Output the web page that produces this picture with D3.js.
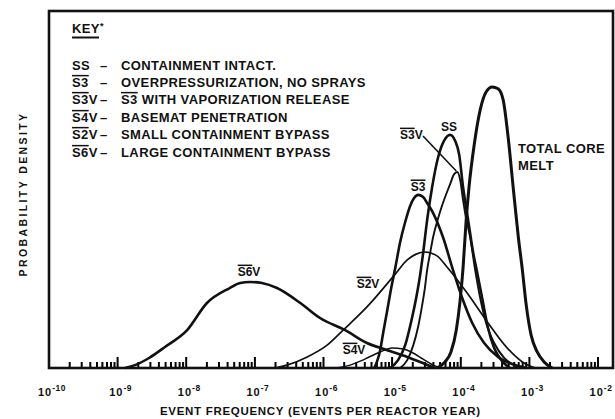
<!DOCTYPE html>
<html>
<head>
<meta charset="utf-8">
<script src="https://cdn.jsdelivr.net/npm/d3@7/dist/d3.min.js"></script>
<style>
  html, body { margin: 0; padding: 0; background: #fff; }
  svg { display: block; }
  text { font-family: "Liberation Sans", Arial, sans-serif; font-weight: 700; fill: #111; }
</style>
</head>
<body>
<svg id="chart" width="615" height="419"></svg>
<script>
// Release categories: event frequency (events per reactor year) against
// relative probability density (fraction of the plot height).

const decadeTicks = [1e-10, 1e-9, 1e-8, 1e-7, 1e-6, 1e-5, 1e-4, 1e-3, 1e-2];
const decadeExponents = ["-10", "-9", "-8", "-7", "-6", "-5", "-4", "-3", "-2"];
const minorMultiples = [2, 3, 4, 5, 6, 7, 8, 9];

const categoryCodes = ["SS", "S3", "S3V", "S4V", "S2V", "S6V"];
const categoryNames = [
  "CONTAINMENT INTACT.",
  "OVERPRESSURIZATION, NO SPRAYS",
  "S3 WITH VAPORIZATION RELEASE",
  "BASEMAT PENETRATION",
  "SMALL CONTAINMENT BYPASS",
  "LARGE CONTAINMENT BYPASS"
];

// Total core melt
const tcmFreq = [4.5e-5, 5.9e-5, 7.2e-5, 8.6e-5, 9.8e-5, 1.08e-4, 1.2e-4, 1.32e-4, 1.57e-4, 1.92e-4, 2.34e-4, 2.87e-4,
  3.5e-4, 4.15e-4, 4.9e-4, 5.8e-4, 6.9e-4, 7.9e-4, 9.0e-4, 1.06e-3, 1.3e-3, 1.64e-3, 2.15e-3];
const tcmDensity = [0, 0.017, 0.045, 0.106, 0.19, 0.28, 0.415, 0.507, 0.625, 0.723, 0.773, 0.787,
  0.782, 0.751, 0.647, 0.507, 0.367, 0.275, 0.176, 0.092, 0.045, 0.017, 0];

// SS – containment intact
const ssFreq = [9.4e-6, 1.22e-5, 1.55e-5, 1.89e-5, 2.24e-5, 2.56e-5, 2.83e-5, 3.24e-5, 3.83e-5, 4.69e-5, 5.7e-5, 7.0e-5,
  8.3e-5, 9.5e-5, 1.08e-4, 1.28e-4, 1.52e-4, 1.73e-4, 2.05e-4, 2.5e-4, 3.07e-4, 3.9e-4, 5.2e-4];
const ssDensity = [0, 0.022, 0.064, 0.129, 0.196, 0.261, 0.322, 0.415, 0.507, 0.591, 0.636, 0.653,
  0.636, 0.597, 0.507, 0.415, 0.322, 0.269, 0.196, 0.112, 0.056, 0.022, 0];

// S3 – overpressurization, no sprays
const s3Freq = [5.5e-6, 6.0e-6, 6.7e-6, 7.4e-6, 8.5e-6, 9.7e-6, 1.11e-5, 1.31e-5, 1.55e-5, 1.83e-5, 2.09e-5, 2.39e-5,
  2.83e-5, 3.24e-5, 3.96e-5, 5.5e-5, 7.7e-5, 1.05e-4, 1.47e-4, 2.19e-4, 3.5e-4, 5.6e-4, 9.0e-4];
const s3Density = [0, 0.017, 0.05, 0.098, 0.162, 0.224, 0.28, 0.353, 0.409, 0.454, 0.476, 0.485,
  0.479, 0.462, 0.434, 0.367, 0.275, 0.196, 0.126, 0.07, 0.031, 0.011, 0];

// S3V – S3 with vaporization release
const s3vFreq = [1.31e-5, 1.66e-5, 2.02e-5, 2.39e-5, 2.74e-5, 3.0e-5, 3.24e-5, 3.58e-5, 3.96e-5, 4.69e-5, 5.5e-5, 7.0e-5,
  8.0e-5, 8.9e-5, 9.8e-5, 1.08e-4, 1.2e-4, 1.37e-4, 1.62e-4, 1.92e-4, 2.34e-4, 3.07e-4, 4.3e-4, 6.4e-4, 9.0e-4];
const s3vDensity = [0, 0.022, 0.062, 0.115, 0.176, 0.224, 0.275, 0.322, 0.367, 0.42, 0.462, 0.515,
  0.543, 0.549, 0.527, 0.471, 0.417, 0.367, 0.275, 0.196, 0.126, 0.07, 0.028, 0.006, 0];

// S4V – basemat penetration
const s4vFreq = [1.48e-6, 2.44e-6, 4.0e-6, 6.7e-6, 1.0e-5, 1.45e-5, 2.02e-5, 2.83e-5, 4.2e-5, 5.9e-5];
const s4vDensity = [0, 0.008, 0.025, 0.045, 0.056, 0.053, 0.042, 0.025, 0.006, 0];

// S2V – small containment bypass
const s2vFreq = [1.97e-7, 2.94e-7, 5.8e-7, 1.13e-6, 1.93e-6, 4.3e-6, 1.11e-5, 1.66e-5, 2.24e-5, 3.0e-5, 4.5e-5, 6.3e-5,
  1.24e-4, 2.34e-4, 4.6e-4, 7.9e-4, 1.22e-3];
const s2vDensity = [0, 0.008, 0.031, 0.064, 0.106, 0.171, 0.263, 0.303, 0.319, 0.325, 0.314, 0.283,
  0.21, 0.134, 0.059, 0.017, 0];

// S6V – large containment bypass
const s6vFreq = [1.28e-9, 1.79e-9, 2.87e-9, 4.9e-9, 1.03e-8, 2.0e-8, 4.3e-8, 6.1e-8, 8.5e-8, 1.27e-7, 2.1e-7, 4.6e-7,
  8.9e-7, 2.07e-6, 4.3e-6, 8.5e-6, 1.66e-5, 2.56e-5, 4.2e-5];
const s6vDensity = [0, 0.008, 0.028, 0.059, 0.106, 0.182, 0.224, 0.238, 0.241, 0.238, 0.224, 0.182,
  0.14, 0.106, 0.07, 0.05, 0.031, 0.017, 0];

// ---------------------------------------------------------------------------

const ink = "#111";
const svg = d3.select("#chart");

const plot = { left: 49, right: 613, top: 11, bottom: 368 };
const x = d3.scaleLog().domain([1e-10, 1e-2]).range([49, 598]);
const y = d3.scaleLinear().domain([0, 1]).range([plot.bottom, plot.top]);

const zip = (fs, ds) => fs.map((f, i) => [f, ds[i]]);
const curves = [
  { id: "s6v", pts: zip(s6vFreq, s6vDensity) },
  { id: "s2v", pts: zip(s2vFreq, s2vDensity) },
  { id: "s4v", pts: zip(s4vFreq, s4vDensity) },
  { id: "s3", pts: zip(s3Freq, s3Density) },
  { id: "s3v", pts: zip(s3vFreq, s3vDensity) },
  { id: "ss", pts: zip(ssFreq, ssDensity) },
  { id: "tcm", pts: zip(tcmFreq, tcmDensity) }
];
const strokeWidth = { s6v: 2.6, s2v: 1.7, s4v: 1.5, s3: 2.6, s3v: 1.9, ss: 2.6, tcm: 3 };

// Text with an overbar above selected pieces (e.g. S̄3V)
function barredText(parent, x0, y0, pieces, size, opts = {}) {
  const t = parent.append("text")
    .attr("x", x0).attr("y", y0)
    .attr("font-size", size)
    .attr("text-anchor", opts.anchor || "start")
    .attr("letter-spacing", opts.spacing || 0);
  pieces.forEach(p => t.append("tspan").text(p.t));
  const node = t.node();
  let idx = 0;
  pieces.forEach(p => {
    if (p.bar) {
      const s = node.getStartPositionOfChar(idx).x;
      const e = node.getEndPositionOfChar(idx + p.t.length - 1).x;
      const by = y0 - size * 0.72 - 2;
      parent.append("line")
        .attr("x1", s).attr("x2", e).attr("y1", by).attr("y2", by)
        .attr("stroke", ink).attr("stroke-width", 1.5);
    }
    idx += p.t.length;
  });
  return t;
}
const codePieces = code => code === "SS" ? [{ t: code }] : [{ t: code.slice(0, 2), bar: true }, { t: code.slice(2) }];

// Log ticks standing up from the bottom edge
const tickMarks = [];
decadeTicks.forEach((d, i) => {
  tickMarks.push({ v: d, major: true });
  if (i < decadeTicks.length - 1) minorMultiples.forEach(m => tickMarks.push({ v: d * m, major: false }));
});
const tickPath = tickMarks
  .map(t => `M${x(t.v).toFixed(1)},${plot.bottom}V${plot.bottom - (t.major ? 11 : 6)}`)
  .join("");
svg.append("path")
  .attr("class", "ticks")
  .attr("d", tickPath)
  .attr("fill", "none")
  .attr("stroke", "#000")
  .attr("stroke-width", 2);

// Frame
svg.append("rect")
  .attr("x", plot.left).attr("y", plot.top)
  .attr("width", plot.right - plot.left).attr("height", plot.bottom - plot.top)
  .attr("fill", "none").attr("stroke", ink).attr("stroke-width", 2.6);

// Decade labels 10^n
const tickLabels = svg.append("g");
decadeTicks.forEach((v, i) => {
  const t = tickLabels.append("text")
    .attr("x", x(v) + 3).attr("y", 396)
    .attr("text-anchor", "middle");
  t.append("tspan").attr("font-size", 11).attr("letter-spacing", 1).text("10");
  t.append("tspan").attr("font-size", 8.5).attr("dy", -5).attr("letter-spacing", 0.5).text(decadeExponents[i]);
});

// Axis titles
svg.append("text")
  .attr("x", 160).attr("y", 415)
  .attr("font-size", 11.5)
  .attr("textLength", 320).attr("lengthAdjust", "spacing")
  .text("EVENT FREQUENCY (EVENTS PER REACTOR YEAR)");

svg.append("text")
  .attr("transform", "translate(27,194) rotate(-90)")
  .attr("text-anchor", "middle")
  .attr("font-size", 10.5)
  .attr("letter-spacing", 2.4)
  .text("PROBABILITY DENSITY");

// Density curves
const line = d3.line()
  .x(d => x(d[0]))
  .y(d => y(d[1]))
  .curve(d3.curveMonotoneX);

svg.append("g").selectAll("path")
  .data(curves)
  .join("path")
  .attr("d", d => line(d.pts))
  .attr("fill", "none")
  .attr("stroke", ink)
  .attr("stroke-width", d => strokeWidth[d.id])
  .attr("stroke-linejoin", "round");

// Curve labels
const peak = pts => pts.reduce((a, b) => (b[1] > a[1] ? b : a));
const lab = svg.append("g");
{
  const p6 = peak(zip(s6vFreq, s6vDensity));
  barredText(lab, x(p6[0]) - 1, y(p6[1]) - 6, codePieces("S6V"), 12, { anchor: "middle" });

  const p3 = peak(zip(s3Freq, s3Density));
  barredText(lab, x(p3[0]), y(p3[1]) - 4, codePieces("S3"), 12, { anchor: "middle" });

  const pss = peak(zip(ssFreq, ssDensity));
  barredText(lab, x(pss[0]) - 1, y(pss[1]) - 4, codePieces("SS"), 12, { anchor: "middle" });

  barredText(lab, 368, 288, codePieces("S2V"), 12, { anchor: "middle" });
  barredText(lab, 354, 354, codePieces("S4V"), 12, { anchor: "middle" });

  barredText(lab, 400, 139, codePieces("S3V"), 12);
  const pv = peak(zip(s3vFreq, s3vDensity));
  lab.append("line")
    .attr("x1", 423).attr("y1", 136)
    .attr("x2", x(pv[0]) - 1).attr("y2", y(pv[1]) - 1)
    .attr("stroke", ink).attr("stroke-width", 1.6);

  lab.append("text").attr("x", 518).attr("y", 153).attr("font-size", 13).attr("letter-spacing", 0.4).text("TOTAL CORE");
  lab.append("text").attr("x", 518).attr("y", 170).attr("font-size", 13).attr("letter-spacing", 0.4).text("MELT");
}

// Key
const key = svg.append("g");
{
  const kt = key.append("text").attr("x", 72).attr("y", 33).attr("font-size", 13).attr("letter-spacing", 0.4);
  kt.append("tspan").text("KEY");
  kt.append("tspan").attr("font-size", 9).attr("dy", -4).text("*");
  key.append("line").attr("x1", 72).attr("x2", 99).attr("y1", 37.5).attr("y2", 37.5)
    .attr("stroke", ink).attr("stroke-width", 2);

  const rowY = [70, 87, 104, 122, 139, 157];
  categoryCodes.forEach((code, i) => {
    barredText(key, 72, rowY[i], codePieces(code), 13, { spacing: 0.4 });
    key.append("text").attr("x", 100).attr("y", rowY[i]).attr("font-size", 13).text("–");
    const name = categoryNames[i];
    const pieces = name.startsWith("S3 ")
      ? [{ t: "S3", bar: true }, { t: name.slice(2) }]
      : [{ t: name }];
    barredText(key, 121, rowY[i], pieces, 13, { spacing: 0.4 });
  });
}
</script>
</body>
</html>
